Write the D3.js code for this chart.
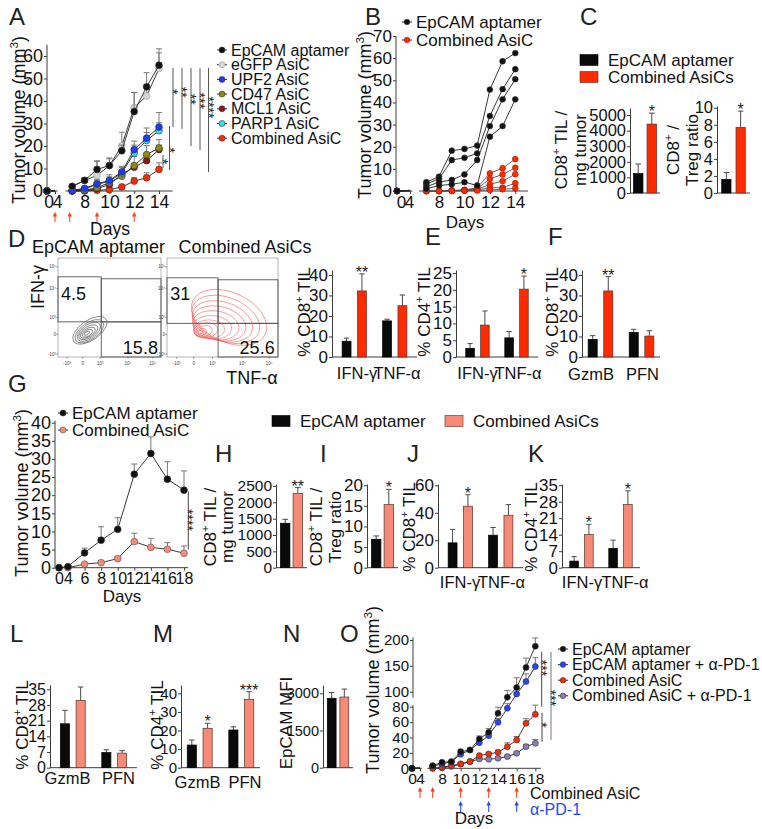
<!DOCTYPE html>
<html>
<head>
<meta charset="utf-8">
<title>Figure</title>
<script src="https://cdn.jsdelivr.net/npm/d3@7"></script>
<style>
  body { margin: 0; background: #fff; }
  svg { font-family: "Liberation Sans", Arial, Helvetica, sans-serif; }
</style>
</head>
<body>
<svg id="fig" width="762" height="829"></svg>
<script>
// ---------- A: tumour growth (mean + SEM) ----------
const daysA = [0, 4, 7, 8, 9, 10, 11, 12, 13, 14];
const namesA = ["EpCAM aptamer", "eGFP AsiC", "UPF2 AsiC", "CD47 AsiC", "MCL1 AsiC", "PARP1 AsiC", "Combined AsiC"];
const fillsA = ["#111111", "#d6d6d6", "#1d3bff", "#8f8a14", "#8e1612", "#2ee6f2", "#ff2a00"];
const volA_epcam = [0, 0.3, 2.1, 4.7, 9.6, 11.3, 17.9, 35.3, 46.3, 55.9];
const volA_egfp = [0, 0.3, 2.0, 4.7, 6.9, 11.3, 20.1, 37.1, 42.2, 54.4];
const volA_upf2 = [0, 0.2, 0.3, 1.2, 3.2, 4.7, 8.5, 18.4, 23.5, 28.4];
const volA_cd47 = [0, 0.1, 0.1, 0.3, 1.5, 3.7, 6.6, 11.3, 16.2, 19.1];
const volA_mcl1 = [0, 0.1, 0.0, 0.2, 1.0, 2.9, 7.4, 10.6, 13.5, 18.4];
const volA_parp1 = [0, 0.2, 0.3, 0.8, 3.0, 4.3, 8.0, 16.9, 22.5, 26.8];
const volA_comb = [0, 0.0, 0.0, 0.0, 0.3, 0.6, 1.8, 4.4, 5.9, 9.6];
const semA_epcam = [0, 0, 0.8, 1.2, 3.6, 3.4, 2.5, 8.5, 6.3, 7.3];
const semA_egfp = [0, 0, 0.8, 1.2, 6.5, 3.0, 6.0, 6.6, 5.0, 7.0];
const semA_upf2 = [0, 0, 0.5, 0.8, 2.0, 2.5, 2.5, 3.8, 4.5, 6.5];
const semA_cd47 = [0, 0, 0.3, 0.5, 1.0, 1.5, 2.0, 4.0, 4.0, 3.7];
const semA_mcl1 = [0, 0, 0.2, 0.4, 1.0, 1.5, 2.0, 1.7, 2.0, 2.0];
const semA_parp1 = [0, 0, 0.5, 0.8, 1.5, 2.0, 2.5, 3.5, 3.5, 3.5];
const semA_comb = [0, 0, 0, 0, 0.5, 0.8, 0.8, 1.5, 2.2, 2.9];
const arrowDaysA = [4, 6.8, 9, 12];

// ---------- B: individual mice ----------
const miceEpcamB = [
  [0, 0.3, 4.0, 6.5, 18.2, 19.0, 20.5, 45.8, 58.6, 62.3],
  [0, 0.3, 3.2, 5.5, 14.0, 15.0, 17.0, 33.9, 46.0, 55.0],
  [0, 0.2, 2.0, 4.0, 5.0, 7.5, 14.0, 29.3, 41.4, 50.5],
  [0, 0.1, 1.0, 2.5, 3.0, 4.0, 2.5, 24.5, 29.3, 41.4]
];
const miceCombB = [
  [0, 0, 0, 0, 0.2, 0.5, 1.5, 8.0, 10.3, 14.4],
  [0, 0, 0, 0, 0.2, 0.4, 1.0, 5.5, 7.5, 10.5],
  [0, 0, 0, 0, 0.1, 0.3, 0.8, 3.0, 4.5, 7.6],
  [0, 0, 0, 0, 0.1, 0.2, 0.5, 1.5, 1.5, 3.5],
  [0, 0, 0, 0, 0, 0.1, 0.2, 0.5, 0.8, 1.2]
];

// ---------- C ----------
const cTilVal = [1250, 4420], cTilErr = [610, 700];
const cRatioVal = [1.6, 7.7], cRatioErr = [0.8, 1.9];

// ---------- D, E, F ----------
const cytokines = ["IFN-γ", "TNF-α"];
const lytic = ["GzmB", "PFN"];
const dCd8Ep = [7.7, 17.6], dCd8EpErr = [1.5, 0.8];
const dCd8Co = [32.2, 25.0], dCd8CoErr = [8.3, 5.2];
const eCd4Ep = [2.6, 5.7], eCd4EpErr = [1.4, 1.9];
const eCd4Co = [9.5, 20.2], eCd4CoErr = [4.2, 3.9];
const fCd8Ep = [8.6, 12.0], fCd8EpErr = [1.8, 1.5];
const fCd8Co = [32.2, 10.2], fCd8CoErr = [7.0, 2.6];
// flow quadrant percentages
const flowEp = ["4.5", "15.8"], flowCo = ["31", "25.6"];
const flowTicksY = [[91, "10⁵"], [69, "10⁴"], [40, "10³"], [23, "0"], [3, "-10³"]];
const flowTicksX = [[8.7, "-10³"], [24, "0"], [41, "10³"], [68, "10⁴"], [92, "10⁵"]];
// contour rings [cx, cy, rx, ry, angle] in axis units (0-100)
const ringsEp = [[31, 27, 19, 10, -35], [30.5, 26, 16, 8.5, -35], [30, 25.5, 13, 7, -35], [29.5, 25, 10.5, 5.5, -33],
  [29, 24.5, 8, 4.2, -30], [28.5, 24, 5.5, 3, -30], [28, 24, 3, 1.6, -30]];
const ringsCo = [[56, 40, 36, 25, 25], [53, 38, 32, 22, 22], [50, 36, 28, 19.5, 18], [47, 34, 24.5, 17, 14],
  [44, 32, 21, 14.5, 10], [41, 30, 17.5, 12, 5], [38, 28, 14, 9.5, 0], [35, 27, 11, 7.5, -8], [33, 26, 8, 5.5, -15],
  [31, 25, 5, 3.5, -20], [30, 25, 2.5, 1.8, -25]];

// ---------- G ----------
const daysG = [0, 4, 6, 8, 10, 12, 14, 16, 18];
const volG_epcam = [0, 0.3, 4.1, 7.6, 10.6, 25.8, 31.5, 24.4, 21.4];
const semG_epcam = [0, 0, 1.3, 3.7, 3.2, 2.8, 4.6, 4.8, 5.3];
const volG_comb = [0, 0, 1.0, 1.4, 2.5, 7.2, 5.6, 5.1, 4.0];
const semG_comb = [0, 0, 0.3, 0.4, 0.5, 2.3, 2.5, 1.8, 2.0];

// ---------- H-N ----------
const hTil = [1360, 2275], hTilErr = [120, 175];
const iRatio = [6.9, 15.3], iRatioErr = [0.8, 3.7];
const jCd8Ep = [18.1, 23.7], jCd8EpErr = [9.8, 5.6];
const jCd8Co = [44.8, 38.2], jCd8CoErr = [8.4, 7.8];
const kCd4Ep = [2.8, 8.2], kCd4EpErr = [1.9, 3.5];
const kCd4Co = [14.1, 26.8], kCd4CoErr = [4.3, 5.8];
const lCd8Ep = [19.6, 6.8], lCd8EpErr = [6.0, 1.2];
const lCd8Co = [30.0, 6.5], lCd8CoErr = [6.0, 1.1];
const mCd4Ep = [12.2, 20.3], mCd4EpErr = [2.7, 1.7];
const mCd4Co = [21.2, 36.8], mCd4CoErr = [2.7, 4.1];
const nMfi = [2800, 2850], nMfiErr = [230, 320];

// ---------- O ----------
const daysO = [0, 4, 7, 8, 9, 10, 11, 12, 13, 14, 15, 16, 17, 18];
const namesO = ["EpCAM aptamer", "EpCAM aptamer + α-PD-1", "Combined AsiC", "Combined AsiC + α-PD-1"];
const fillsO = ["#111111", "#2446ff", "#ff2a00", "#8c7bb5"];
const volO_epcam = [0, 0.5, 3.4, 7.8, 8.6, 21.6, 23.8, 38.0, 46.8, 71.4, 92.5, 108, 147, 188];
const volO_epcamPd1 = [0, 0.5, 3.0, 5.6, 8.6, 18.2, 23.8, 33.3, 42.4, 59.7, 78.0, 97, 119.5, 148.7];
const volO_comb = [0, 0, 0, 1.3, 3.5, 5.6, 8.7, 16.5, 18.6, 20.8, 28.1, 36.8, 58.4, 70.1];
const volO_combPd1 = [0, 0, 0, 0.5, 2.5, 5.6, 8.7, 12.1, 11.7, 13.0, 15.2, 19.5, 28.1, 32.5];
const semO_epcam = [0, 0, 0.5, 1, 1.5, 3, 2, 4, 5, 8, 10, 19, 18, 16];
const semO_epcamPd1 = [0, 0, 0.5, 1, 1.5, 2.5, 2, 3, 3, 5, 6, 8, 15, 17];
const semO_comb = [0, 0, 0, 0.5, 0.5, 1, 1, 2, 2, 2.5, 5, 4.5, 6, 12];
const semO_combPd1 = [0, 0, 0, 0.3, 0.5, 1, 1, 1.5, 1.5, 2, 2, 2, 3, 5];
const arrowDaysO_asic = [4, 7, 10, 13, 16];
const arrowDaysO_pd1 = [10, 13, 16];

// =====================================================================
const svg = d3.select("#fig");
const AX = "#3c3c3c";
const RED = "#ff2a00";
const SALMON = "#f58b77";
const fmt = d3.format("d");

function rich(sel, str, fs) {
  const parts = str.split(/(\{[^}]*\})/).filter((s) => s.length);
  let up = false;
  parts.forEach((p) => {
    if (p[0] === "{") {
      sel.append("tspan").attr("dy", -fs * 0.42).attr("font-size", fs * 0.65).text(p.slice(1, -1));
      up = true;
    } else {
      const t = sel.append("tspan").text(p);
      if (up) { t.attr("dy", fs * 0.42); up = false; }
    }
  });
  return sel;
}

function label(x, y, str, fs, anchor = "start", fill = "#111") {
  const t = svg.append("text").attr("x", x).attr("y", y).attr("font-size", fs)
    .attr("text-anchor", anchor).attr("fill", fill);
  return rich(t, str, fs);
}

function vLabel(cx, cy, str, fs) {
  const t = svg.append("text")
    .attr("transform", `translate(${cx + fs * 0.36},${cy}) rotate(-90)`)
    .attr("text-anchor", "middle").attr("font-size", fs).attr("fill", "#111");
  return rich(t, str, fs);
}

function vStars(x, cy, str) {
  svg.append("text").attr("transform", `translate(${x - 5},${cy}) rotate(90)`)
    .attr("text-anchor", "middle").attr("font-size", 14).attr("fill", "#222").text(str);
}

function letter(t, x, y) {
  svg.append("text").attr("x", x).attr("y", y).attr("font-size", 24).attr("fill", "#222").text(t);
}

function styleAxis(g, fs) {
  g.attr("font-size", fs).attr("font-family", null);
  g.select(".domain").attr("stroke", AX);
  g.selectAll(".tick line").attr("stroke", AX);
  g.selectAll(".tick text").attr("fill", "#111");
}

function vline(x, y1, y2, color = "#555", w = 1) {
  svg.append("line").attr("x1", x).attr("x2", x).attr("y1", y1).attr("y2", y2)
    .attr("stroke", color).attr("stroke-width", w);
}

function arrow(xp, yTop, yBot, color) {
  vline(xp, yTop + 3, yBot, color, 1);
  svg.append("path").attr("d", `M${xp - 2.2},${yTop + 4.5}L${xp},${yTop}L${xp + 2.2},${yTop + 4.5}Z`).attr("fill", color);
}

function legendDot(x, y, fill, stroke, text, fs, r = 3) {
  svg.append("line").attr("x1", x - 5).attr("x2", x + 5).attr("y1", y).attr("y2", y).attr("stroke", "#333");
  svg.append("circle").attr("cx", x).attr("cy", y).attr("r", r).attr("fill", fill).attr("stroke", stroke).attr("stroke-width", 0.6);
  label(x + 9, y + fs * 0.35, text, fs);
}

function legendBox(x, y, fill, text, fs) {
  svg.append("rect").attr("x", x).attr("y", y - 5.5).attr("width", 18).attr("height", 11)
    .attr("fill", fill).attr("stroke", fill === "#0a0a0a" ? "#000" : "#5a3028").attr("stroke-width", 0.6);
  label(x + 28, y + fs * 0.35, text, fs);
}

// bar chart with two series (black vs treatment) per group
function barChart(o) {
  const y = d3.scaleLinear().domain([0, o.top]).range([o.y0, o.yTop]);
  const gx = d3.scaleBand().domain(o.groups).range([o.x0, o.x1])
    .paddingInner(o.pi ?? 0.4).paddingOuter(o.po ?? 0.25);
  const sx = d3.scaleBand().domain([0, 1]).range([0, gx.bandwidth()]).paddingInner(o.pin ?? 0.42);
  const ax = svg.append("g").attr("transform", `translate(${o.x0},0)`)
    .call(d3.axisLeft(y).tickValues(o.ticks).tickFormat(fmt).tickSize(3).tickPadding(1).tickSizeOuter(0));
  styleAxis(ax, o.fs);
  svg.append("line").attr("x1", o.x0).attr("x2", o.x1).attr("y1", o.y0).attr("y2", o.y0).attr("stroke", AX);
  const fills = ["#0a0a0a", o.color];
  o.groups.forEach((grp, gi) => {
    o.series.forEach((ser, si) => {
      const v = ser.v[gi], e = ser.e[gi];
      const bx = gx(grp) + sx(si), bw = sx.bandwidth(), cx = bx + bw / 2;
      vline(cx, y(v), y(v + e), "#4a4a4a", 1);
      svg.append("line").attr("x1", cx - bw * 0.3).attr("x2", cx + bw * 0.3)
        .attr("y1", y(v + e)).attr("y2", y(v + e)).attr("stroke", "#4a4a4a");
      svg.append("rect").attr("x", bx).attr("y", y(v)).attr("width", bw).attr("height", o.y0 - y(v))
        .attr("fill", fills[si]).attr("stroke", si ? "#5a3028" : "#000").attr("stroke-width", 0.7);
      const st = (o.stars || []).find((s) => s[0] === gi && s[1] === si);
      if (st) {
        svg.append("text").attr("x", cx).attr("y", y(v + e) + 4).attr("text-anchor", "middle")
          .attr("font-size", 16).attr("fill", "#222").text(st[2]);
      }
    });
    if (o.xLabels) {
      const lx = o.xLabX ? o.xLabX[gi] : gx(grp) + gx.bandwidth() / 2;
      label(lx, o.xLabY, o.xLabels[gi], o.xfs ?? 16.5, "middle");
    }
  });
  const cy = o.labY ?? (o.y0 + o.yTop) / 2;
  o.yLab.forEach((ln, i) => vLabel(o.labX[i], cy, ln, o.lfs ?? 17));
}

// axes for the line charts (with optional breaks)
function lineAxes(o) {
  const ax = svg.append("g").attr("transform", `translate(${o.ax},0)`)
    .call(d3.axisLeft(o.y).tickValues(o.yTicks).tickFormat(fmt).tickSize(3).tickPadding(1).tickSizeOuter(0));
  styleAxis(ax, o.fs);
  ax.select(".domain").remove();
  o.ySegs.forEach(([a, b]) => vline(o.ax, o.y(a), o.y(b), AX, 1));
  const bx = svg.append("g").attr("transform", `translate(0,${o.ay})`)
    .call(d3.axisBottom(o.x).tickValues(o.xTicks).tickFormat(fmt).tickSize(3).tickPadding(2).tickSizeOuter(0));
  styleAxis(bx, o.xfs ?? o.fs);
  bx.select(".domain").remove();
  // the "0" and "4" labels sit side by side as "04"
  const dx = o.dx || [0, 0];
  bx.selectAll(".tick text").attr("dx", (d) => (d === 0 ? dx[0] : d === 4 ? dx[1] : 0));
  o.xSegs.forEach(([a, b]) => svg.append("line").attr("x1", o.x(a)).attr("x2", o.x(b))
    .attr("y1", o.ay).attr("y2", o.ay).attr("stroke", AX));
}

function drawSeries(days, vals, errs, x, y, st, breakAt) {
  const pts = days.map((d, i) => ({ d, v: vals[i], e: errs ? errs[i] : 0 }));
  pts.filter((p) => p.e > 0).forEach((p) => {
    vline(x(p.d), y(p.v), y(p.v + p.e), st.err || "#777", 1);
    svg.append("line").attr("x1", x(p.d) - 3).attr("x2", x(p.d) + 3)
      .attr("y1", y(p.v + p.e)).attr("y2", y(p.v + p.e)).attr("stroke", st.err || "#777");
  });
  const parts = breakAt == null ? [pts] : [pts.filter((p) => p.d <= breakAt), pts.filter((p) => p.d > breakAt)];
  const line = d3.line().x((p) => x(p.d)).y((p) => y(p.v));
  parts.forEach((part) => svg.append("path").attr("d", line(part)).attr("fill", "none")
    .attr("stroke", st.line || "#222").attr("stroke-width", 0.9));
  pts.filter((p) => breakAt == null || p.d !== breakAt).forEach((p) => {
    svg.append("circle").attr("cx", x(p.d)).attr("cy", y(p.v)).attr("r", st.r || 3.3)
      .attr("fill", st.fill).attr("stroke", st.stroke || "#333").attr("stroke-width", 0.6);
  });
}

// ===================== Panel A =====================
letter("A", 9, 25);
{
  const x = d3.scaleLinear().domain([0, 4, 6.5, 15]).range([47, 55, 66, 171.4]);
  const y = d3.scaleLinear().domain([0, 65]).range([191, 44.75]);
  lineAxes({ x, y, ax: 47, ay: 191, yTicks: d3.range(0, 61, 10), ySegs: [[0, 65]],
    xTicks: [0, 4, 8, 10, 12, 14], xSegs: [[0, 4.6], [6.4, 15.1]], fs: 18, xfs: 17.5, dx: [1.5, 2] });
  const vols = [volA_epcam, volA_egfp, volA_upf2, volA_cd47, volA_mcl1, volA_parp1, volA_comb];
  const sems = [semA_epcam, semA_egfp, semA_upf2, semA_cd47, semA_mcl1, semA_parp1, semA_comb];
  [6, 4, 3, 5, 2, 1, 0].forEach((i) => drawSeries(daysA, vols[i], sems[i], x, y,
    { fill: fillsA[i], stroke: i === 1 ? "#999" : "#333", err: "#7a7a7a", r: 3.4 }, 4));
  arrowDaysA.forEach((d) => arrow(x(d), 212, 222, "#ff3b1a"));
  label(110, 235, "Days", 17.5, "middle");
  vLabel(19, 120, "Tumor volume (mm{3})", 18);
  namesA.forEach((n, i) => legendDot(222, 50 + i * 14.7, fillsA[i], i === 1 ? "#999" : "#333", n, 16));
  // significance brackets
  const sig = [[163, 16, 10.2, "*", 0.5], [169.5, 28.9, 9.3, "*", 0.55], [173, 54.7, 28.4, "*", 0.4],
    [182, 54.7, 27.6, "**", 0.4], [191, 54.7, 20, "**", 0.4], [200, 54.7, 18.2, "***", 0.4], [208.5, 54.7, 8.4, "****", 0.38]];
  sig.forEach(([sx, a, b, s, f]) => {
    vline(sx, y(a), y(b), "#555", 1);
    vStars(sx, y(a) + (y(b) - y(a)) * f, s);
  });
}

// ===================== Panel B =====================
letter("B", 365, 25);
{
  const x = d3.scaleLinear().domain([0, 4, 6.5, 15]).range([397, 410, 420, 528]);
  const y = d3.scaleLinear().domain([0, 70]).range([191, 36]);
  lineAxes({ x, y, ax: 396, ay: 191, yTicks: d3.range(0, 71, 10), ySegs: [[0, 70]],
    xTicks: [0, 4, 8, 10, 12, 14], xSegs: [[0, 4.6], [6.3, 15]], fs: 17, xfs: 17, dx: [4, -1] });
  miceCombB.forEach((m) => drawSeries(daysA, m, null, x, y, { fill: RED, stroke: "#a01800", line: "#555", r: 2.9 }, 4));
  miceEpcamB.forEach((m) => drawSeries(daysA, m, null, x, y, { fill: "#111", line: "#222", r: 2.9 }, 4));
  legendDot(407, 22, "#111", "#333", "EpCAM aptamer", 17, 2.8);
  legendDot(407, 40, RED, "#a01800", "Combined AsiC", 17, 2.8);
  label(465, 228, "Days", 17, "middle");
  vLabel(365, 115, "Tumor volume (mm{3})", 18);
}

// ===================== Panel C =====================
letter("C", 580, 25);
legendBox(580, 60, "#0a0a0a", "EpCAM aptamer", 17);
legendBox(580, 77, RED, "Combined AsiCs", 17);
barChart({ x0: 630, x1: 660, y0: 193, yTop: 108, top: 5450, ticks: d3.range(0, 5001, 1000), fs: 16.5,
  groups: ["c"], pi: 0, po: 0.15, pin: 0.3, color: RED,
  series: [{ v: [cTilVal[0]], e: [cTilErr[0]] }, { v: [cTilVal[1]], e: [cTilErr[1]] }],
  stars: [[0, 1, "*"]], yLab: ["CD8{+} TIL /", "mg tumor"], labX: [561, 580], labY: 150 });
barChart({ x0: 717, x1: 750, y0: 193, yTop: 106, top: 10.2, ticks: d3.range(0, 11, 2), fs: 16.5,
  groups: ["c"], pi: 0, po: 0.2, pin: 0.35, color: RED,
  series: [{ v: [cRatioVal[0]], e: [cRatioErr[0]] }, { v: [cRatioVal[1]], e: [cRatioErr[1]] }],
  stars: [[0, 1, "*"]], yLab: ["CD8{+} /", "Treg ratio"], labX: [673, 692], labY: 150 });

// ===================== Panel D (flow) =====================
letter("D", 8, 247);
label(98.5, 253, "EpCAM aptamer", 18, "middle");
label(245, 253, "Combined AsiCs", 18, "middle");
function flowPlot(o) {
  const fx = d3.scaleLinear().domain([0, 100]).range([o.x0, o.x1]);
  const fy = d3.scaleLinear().domain([0, 100]).range([o.y1, o.y0]);
  svg.append("rect").attr("x", o.x0).attr("y", o.y0).attr("width", o.x1 - o.x0).attr("height", o.y1 - o.y0)
    .attr("fill", "none").attr("stroke", "#a0a0a0").attr("stroke-width", 0.8);
  o.rings.forEach(([cx, cy, rx, ry, a]) => {
    svg.append("ellipse").attr("cx", fx(cx)).attr("cy", fy(cy))
      .attr("rx", fx(rx) - fx(0)).attr("ry", fy(0) - fy(ry))
      .attr("transform", `rotate(${a},${fx(cx)},${fy(cy)})`)
      .attr("fill", "none").attr("stroke", o.ringColor).attr("stroke-width", 0.55);
  });
  o.gates.forEach(([a, b, c, d]) => {
    svg.append("rect").attr("x", fx(a)).attr("y", fy(d)).attr("width", fx(c) - fx(a)).attr("height", fy(b) - fy(d))
      .attr("fill", "none").attr("stroke", "#555").attr("stroke-width", 0.9);
  });
  label(fx(3), fy(64) + 6, o.nums[0], 18, "start");
  label(fx(97), fy(9) + 6, o.nums[1], 18, "end");
  flowTicksY.forEach(([v, t]) => {
    svg.append("text").attr("x", o.x0 - 2).attr("y", fy(v) + 1.5).attr("text-anchor", "end")
      .attr("font-size", 4.5).attr("fill", "#444").text(t);
    svg.append("line").attr("x1", o.x0 - 1.5).attr("x2", o.x0).attr("y1", fy(v)).attr("y2", fy(v)).attr("stroke", "#777");
  });
  flowTicksX.forEach(([v, t]) => {
    svg.append("text").attr("x", fx(v)).attr("y", o.y1 + 8).attr("text-anchor", "middle")
      .attr("font-size", 4.5).attr("fill", "#444").text(t);
    svg.append("line").attr("x1", fx(v)).attr("x2", fx(v)).attr("y1", o.y1).attr("y2", o.y1 + 1.5).attr("stroke", "#777");
  });
}
flowPlot({ x0: 58, x1: 161, y0: 258, y1: 357, rings: ringsEp, ringColor: "#3d3d3d",
  gates: [[0, 35.5, 42, 81], [42, 35.5, 100, 79], [42, 0, 100, 35.5]], nums: flowEp });
flowPlot({ x0: 167, x1: 278, y0: 258, y1: 357, rings: ringsCo, ringColor: "#f25a5a",
  gates: [[0, 34, 46, 80], [46, 34, 100, 78], [46, 0, 100, 34]], nums: flowCo });
vLabel(38, 287, "IFN-γ", 18);
label(252, 384, "TNF-α", 18, "middle");

// ===================== Panels D-bar, E, F =====================
barChart({ x0: 332, x1: 417, y0: 357, yTop: 270, top: 42.4, ticks: d3.range(0, 41, 10), fs: 17,
  groups: cytokines, color: RED, xLabels: cytokines, xLabY: 379, xLabX: [357, 397],
  series: [{ v: dCd8Ep, e: dCd8EpErr }, { v: dCd8Co, e: dCd8CoErr }],
  stars: [[0, 1, "**"]], yLab: ["% CD8{+} TIL"], labX: [304], labY: 312 });
letter("E", 425, 245);
barChart({ x0: 456, x1: 538, y0: 357, yTop: 270, top: 25.9, ticks: d3.range(0, 26, 5), fs: 17,
  groups: cytokines, color: RED, xLabels: cytokines, xLabY: 379, xLabX: [477.5, 518],
  series: [{ v: eCd4Ep, e: eCd4EpErr }, { v: eCd4Co, e: eCd4CoErr }],
  stars: [[1, 1, "*"]], yLab: ["% CD4{+} TIL"], labX: [424], labY: 312 });
letter("F", 548, 245);
barChart({ x0: 582, x1: 660, y0: 357, yTop: 270, top: 42.4, ticks: d3.range(0, 41, 10), fs: 17,
  groups: lytic, color: RED, xLabels: lytic, xLabY: 380, xLabX: [591, 642.5], po: 0.15,
  series: [{ v: fCd8Ep, e: fCd8EpErr }, { v: fCd8Co, e: fCd8CoErr }],
  stars: [[0, 1, "**"]], yLab: ["% CD8{+} TIL"], labX: [552], labY: 312 });

// ===================== Panel G =====================
letter("G", 8, 392);
{
  const x = d3.scaleLinear().domain([0, 4, 18]).range([59, 68, 184]);
  const y = d3.scaleLinear().domain([0, 40]).range([567.7, 422.7]);
  lineAxes({ x, y, ax: 55, ay: 567.7, yTicks: d3.range(0, 41, 5), ySegs: [[0, 40.6]],
    xTicks: daysG, xSegs: [[-1.7, 18.5]], fs: 18, xfs: 16 });
  drawSeries(daysG, volG_comb, semG_comb, x, y, { fill: SALMON, stroke: "#555", err: "#777", r: 3.4 });
  drawSeries(daysG, volG_epcam, semG_epcam, x, y, { fill: "#111", err: "#777", r: 3.4 });
  legendDot(63, 413, "#111", "#333", "EpCAM aptamer", 17);
  legendDot(63, 430, SALMON, "#555", "Combined AsiC", 17);
  label(122, 602, "Days", 17, "middle");
  vLabel(22, 493, "Tumor volume (mm{3})", 18);
  vline(188.3, y(21), y(5), "#444", 1);
  vStars(188.3, 520, "****");
}

// ===================== Panels H-K =====================
legendBox(272, 421, "#0a0a0a", "EpCAM aptamer", 17);
legendBox(445, 421, SALMON, "Combined AsiCs", 17);
letter("H", 215, 462);
barChart({ x0: 276, x1: 307, y0: 567.7, yTop: 484, top: 2560, ticks: d3.range(0, 2501, 500), fs: 15.5,
  groups: ["h"], pi: 0, po: 0.2, pin: 0.25, color: SALMON,
  series: [{ v: [hTil[0]], e: [hTilErr[0]] }, { v: [hTil[1]], e: [hTilErr[1]] }],
  stars: [[0, 1, "**"]], yLab: ["CD8{+} TIL /", "mg tumor"], labX: [210, 227], labY: 527 });
letter("I", 320, 462);
barChart({ x0: 367, x1: 398, y0: 567.7, yTop: 484, top: 20.3, ticks: d3.range(0, 21, 5), fs: 17,
  groups: ["i"], pi: 0, po: 0.2, pin: 0.25, color: SALMON,
  series: [{ v: [iRatio[0]], e: [iRatioErr[0]] }, { v: [iRatio[1]], e: [iRatioErr[1]] }],
  stars: [[0, 1, "*"]], yLab: ["CD8{+} TIL /", "Treg ratio"], labX: [316, 335], labY: 527 });
letter("J", 407, 462);
barChart({ x0: 438, x1: 523, y0: 567.7, yTop: 484, top: 61, ticks: d3.range(0, 61, 20), fs: 17,
  groups: cytokines, color: SALMON, xLabels: cytokines, xLabY: 588, xLabX: [460, 501.5],
  series: [{ v: jCd8Ep, e: jCd8EpErr }, { v: jCd8Co, e: jCd8CoErr }],
  stars: [[0, 1, "*"]], yLab: ["% CD8{+} TIL"], labX: [409], labY: 527 });
letter("K", 528, 462);
barChart({ x0: 562, x1: 640, y0: 567.7, yTop: 484, top: 35.5, ticks: d3.range(0, 36, 7), fs: 17,
  groups: cytokines, color: SALMON, xLabels: cytokines, xLabY: 588, xLabX: [582, 625], po: 0.2,
  series: [{ v: kCd4Ep, e: kCd4EpErr }, { v: kCd4Co, e: kCd4CoErr }],
  stars: [[0, 1, "*"], [1, 1, "*"]], yLab: ["% CD4{+} TIL"], labX: [531], labY: 527 });

// ===================== Panels L-N =====================
letter("L", 10, 642);
barChart({ x0: 50, x1: 137, y0: 767.7, yTop: 684.8, top: 37, ticks: d3.range(0, 36, 7), fs: 16,
  groups: lytic, color: SALMON, xLabels: lytic, xLabY: 784, xLabX: [67.5, 118.5],
  series: [{ v: lCd8Ep, e: lCd8EpErr }, { v: lCd8Co, e: lCd8CoErr }],
  yLab: ["% CD8{+} TIL"], labX: [22], labY: 725 });
letter("M", 153, 642);
barChart({ x0: 181, x1: 260, y0: 767.7, yTop: 685, top: 44.5, ticks: d3.range(0, 41, 10), fs: 15,
  groups: lytic, color: SALMON, xLabels: lytic, xLabY: 788, xLabX: [197.5, 245], po: 0.15,
  series: [{ v: mCd4Ep, e: mCd4EpErr }, { v: mCd4Co, e: mCd4CoErr }],
  stars: [[0, 1, "*"], [1, 1, "***"]], yLab: ["% CD4{+} TIL"], labX: [157], labY: 725 });
letter("N", 283, 642);
barChart({ x0: 323, x1: 353, y0: 767.7, yTop: 685, top: 3335, ticks: [0, 1500, 3000], fs: 14.5,
  groups: ["n"], pi: 0, po: 0.2, pin: 0.3, color: SALMON,
  series: [{ v: [nMfi[0]], e: [nMfiErr[0]] }, { v: [nMfi[1]], e: [nMfiErr[1]] }],
  yLab: ["EpCAM MFI"], labX: [286], labY: 723 });

// ===================== Panel O =====================
letter("O", 340, 642);
{
  const x = d3.scaleLinear().domain([0, 4, 6.5, 18.5]).range([412, 420, 428, 540]);
  const y = d3.scaleLinear().domain([0, 80, 100, 200]).range([768.3, 706.7, 691.7, 640]);
  lineAxes({ x, y, ax: 413, ay: 768.3, yTicks: [0, 20, 40, 60, 80, 100, 150, 200], ySegs: [[0, 82], [92, 205]],
    xTicks: [0, 4, 8, 10, 12, 14, 16, 18], xSegs: [[0, 4.6], [6.3, 18.6]], fs: 15, xfs: 15.5 });
  const vols = [volO_epcam, volO_epcamPd1, volO_comb, volO_combPd1];
  const sems = [semO_epcam, semO_epcamPd1, semO_comb, semO_combPd1];
  [3, 2, 1, 0].forEach((i) => drawSeries(daysO, vols[i], sems[i], x, y,
    { fill: fillsO[i], stroke: "#333", err: "#777", r: 3 }, 4));
  namesO.forEach((n, i) => legendDot(563, 649 + i * 15.6, fillsO[i], "#333", n, 16, 2.8));
  arrowDaysO_asic.forEach((d) => arrow(x(d), 787, 798, "#ff3b1a"));
  arrowDaysO_pd1.forEach((d) => arrow(x(d), 801, 812, "#2446ff"));
  label(530, 799, "Combined AsiC", 16);
  label(530, 815, "α-PD-1", 16, "start", "#2446ff");
  label(474, 824, "Days", 17, "middle");
  vLabel(373, 690, "Tumor volume (mm{3})", 18);
  vline(541.7, y(177), y(80), "#444", 1);
  vStars(541.7, 668, "***");
  vline(551, y(177), y(36.8), "#777", 1);
  vStars(551, 698, "***");
  vline(542, y(71.8), y(34.5), "#444", 1);
  vStars(542, 725, "*");
}
</script>
</body>
</html>
